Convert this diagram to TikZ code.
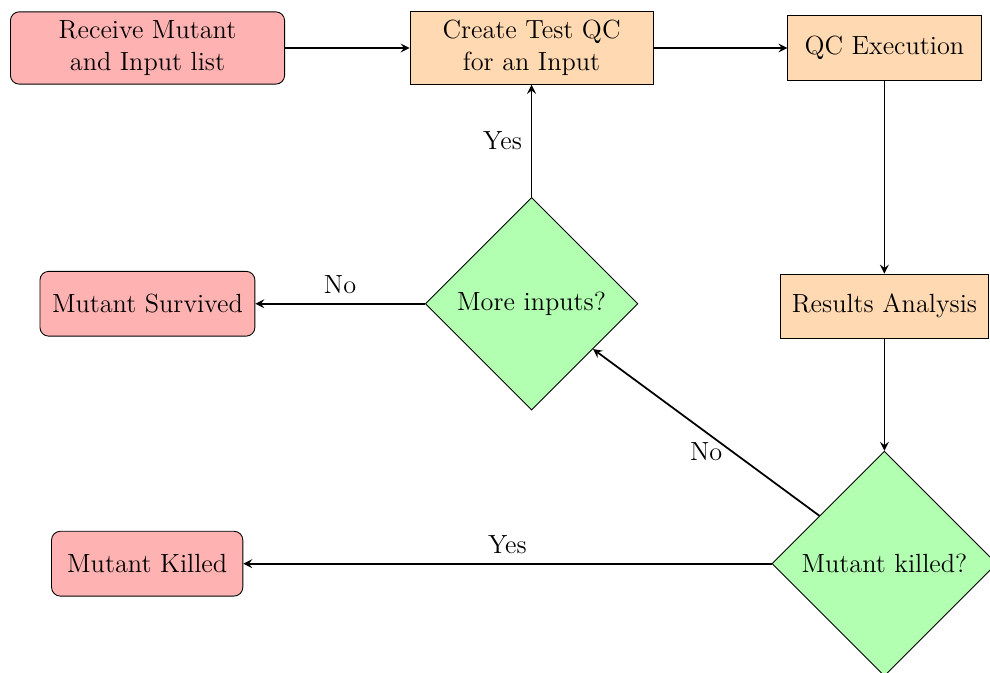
\documentclass[tikz,border=0pt,12pt]{standalone}
\usepackage{tikz}
\usetikzlibrary{shapes.geometric, arrows, positioning}

\begin{document}
\begin{tikzpicture}[
        node distance=2cm and 2cm,
        startstop/.style={draw, rectangle, rounded corners, minimum height=1.04cm, align=center, fill=red!30},
        process/.style={draw, rectangle, minimum height=1.03cm, align=center, fill=orange!30},
        decision/.style={draw, diamond, aspect=1, inner sep=4.6pt, align=center, fill=green!30},
        arrow/.style={thick, ->, >=stealth}
    ]
        \useasboundingbox (-2.368,0.770) rectangle (13.523,-10.032);
        % Nodes
        \node[startstop, minimum width=4.4cm] (recv) {Receive Mutant\\and Input list};
        \node[process, right=2cm of recv, minimum width=3.9cm] (create) {Create Test QC\\for an Input};
        \node[process, right=2.15cm of create, minimum width=3.1cm] (exec) {QC Execution};
        \node[process, below=3.1cm of exec, minimum width=3.35cm] (analysis) {Results Analysis};
        \node[decision, below=1.8cm of analysis] (killedq) {Mutant killed?};
        \node[decision, below=1.8cm of create] (moreq) {More inputs?};
        \node[startstop, left=2.72cm of moreq, minimum width=3.45cm] (survived) {Mutant Survived};
        \node[startstop, left=8.48cm of killedq, minimum width=3.07cm] (killed) {Mutant Killed};

        % Arrows
        \draw[arrow] (recv) -- (create);
        \draw[arrow] (create) -- (exec);
        \draw[arrow] (exec) -- (analysis);
        \draw[arrow] (analysis) -- (killedq);
        \draw[arrow] (killedq) -- node[above] {Yes} (killed);
        \draw[arrow] (killedq) -- node[below] {No} (moreq);
        \draw[arrow] (moreq) -- node[left] {Yes} (create);
        \draw[arrow] (moreq) -- node[above] {No} (survived);
    \end{tikzpicture}
\end{document}
